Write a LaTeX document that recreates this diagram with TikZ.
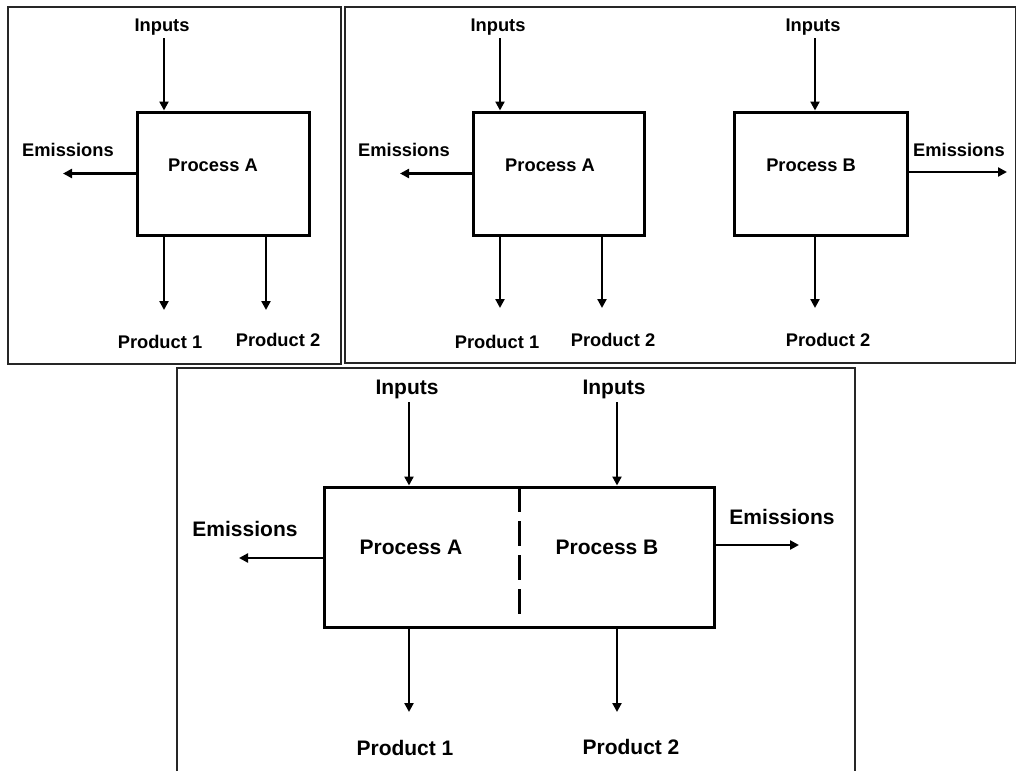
\documentclass[tikz,border=0pt]{standalone}
\usepackage{fontspec}
\setmainfont{Liberation Sans}
\usetikzlibrary{arrows.meta}
\begin{document}
\begin{tikzpicture}[x=1pt,y=-1pt,
  frame/.style={draw=black!85,line width=1.8pt},
  procbox/.style={draw,line width=3pt,rectangle,inner sep=0pt},
  arr/.style={line width=2.7pt,-{Triangle[length=9pt,width=9pt]}},
  lbl/.style={inner sep=0pt,font=\fontsize{18.3}{22}\selectfont\bfseries},
  lblbig/.style={inner sep=0pt,font=\fontsize{21}{25}\selectfont\bfseries}]
\useasboundingbox (0,0) rectangle (1017,771);

% ---------- panel frames ----------
\draw[frame] (8,7) rectangle (341,364);
\draw[frame] (345,7) rectangle (1015.5,363);
\draw[frame] (177,771) -- (177,368) -- (855,368) -- (855,771);

% ---------- panel 1: single process A ----------
\node[procbox,minimum width=172pt,minimum height=123pt] (boxA1) at (223,173.5) {};
\node[lbl] (procA1) at (213,165) {Process A};
\node[lbl] (inA1) at (162,27) {Inputs};
\node[lbl] (emA1) at (68,150) {Emissions};
\node[lbl] (pr1A1) at (160,342) {Product 1};
\node[lbl] (pr2A1) at (278,340) {Product 2};
\coordinate (inA1x) at (164,38);
\coordinate (emA1x) at (63,173.5);
\coordinate (pr1A1x) at (164,310);
\coordinate (pr2A1x) at (266,310);
\draw[arr] (inA1x) -- (inA1x |- boxA1.north);
\draw[arr] (boxA1.west) -- (emA1x);
\draw[arr] (boxA1.south -| pr1A1x) -- (pr1A1x);
\draw[arr] (boxA1.south -| pr2A1x) -- (pr2A1x);

% ---------- panel 2: process A ----------
\node[procbox,minimum width=171pt,minimum height=123pt] (boxA2) at (558.5,173.5) {};
\node[lbl] (procA2) at (550,165) {Process A};
\node[lbl] (inA2) at (498,27) {Inputs};
\node[lbl] (emA2) at (404,150) {Emissions};
\node[lbl] (pr1A2) at (497,342) {Product 1};
\node[lbl] (pr2A2) at (613,340) {Product 2};
\coordinate (inA2x) at (500,38);
\coordinate (emA2x) at (400,173.5);
\coordinate (pr1A2x) at (500,308);
\coordinate (pr2A2x) at (602,308);
\draw[arr] (inA2x) -- (inA2x |- boxA2.north);
\draw[arr] (boxA2.west) -- (emA2x);
\draw[arr] (boxA2.south -| pr1A2x) -- (pr1A2x);
\draw[arr] (boxA2.south -| pr2A2x) -- (pr2A2x);

% ---------- panel 2: process B ----------
\node[procbox,minimum width=173pt,minimum height=123pt] (boxB2) at (820.5,173.5) {};
\node[lbl] (procB2) at (811,165) {Process B};
\node[lbl] (inB2) at (813,27) {Inputs};
\node[lbl] (emB2) at (959,150) {Emissions};
\node[lbl] (pr2B2) at (828,340) {Product 2};
\coordinate (inB2x) at (815,38);
\coordinate (emB2x) at (1007,172);
\coordinate (pr2B2x) at (815,308);
\draw[arr] (inB2x) -- (inB2x |- boxB2.north);
\draw[arr] (boxB2.east |- emB2x) -- (emB2x);
\draw[arr] (boxB2.south -| pr2B2x) -- (pr2B2x);

% ---------- bottom panel: combined process A + B ----------
\node[procbox,minimum width=390pt,minimum height=140pt] (boxAB) at (519,557) {};
\coordinate (divtop) at (519,487);
\coordinate (divbot) at (519,618);
\draw[line width=3pt,dash pattern=on 25pt off 9pt] (divtop) -- (divbot);
\node[lblbig] (procA3) at (411,547) {Process A};
\node[lblbig] (procB3) at (607,547) {Process B};
\node[lblbig] (inA3) at (407,389) {Inputs};
\node[lblbig] (inB3) at (614,389) {Inputs};
\node[lblbig] (emA3) at (245,529) {Emissions};
\node[lblbig] (emB3) at (782,517) {Emissions};
\node[lblbig] (pr1AB) at (405,748) {Product 1};
\node[lblbig] (pr2AB) at (631,747) {Product 2};
\coordinate (inA3x) at (409,402);
\coordinate (inB3x) at (617,402);
\coordinate (emA3x) at (239,558);
\coordinate (emB3x) at (799,545);
\coordinate (pr1ABx) at (409,712);
\coordinate (pr2ABx) at (617,712);
\draw[arr] (inA3x) -- (inA3x |- boxAB.north);
\draw[arr] (inB3x) -- (inB3x |- boxAB.north);
\draw[arr] (boxAB.west |- emA3x) -- (emA3x);
\draw[arr] (boxAB.east |- emB3x) -- (emB3x);
\draw[arr] (boxAB.south -| pr1ABx) -- (pr1ABx);
\draw[arr] (boxAB.south -| pr2ABx) -- (pr2ABx);
\end{tikzpicture}
\end{document}
